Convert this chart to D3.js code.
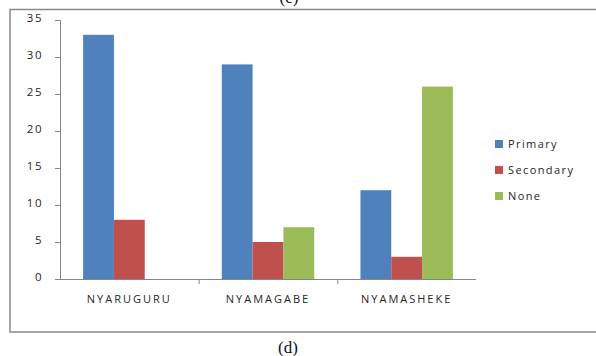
<!DOCTYPE html>
<html>
<head>
<meta charset="utf-8">
<script src="https://cdn.jsdelivr.net/npm/d3@7"></script>
<style>
  html, body { margin: 0; padding: 0; background: #fff; }
  svg { display: block; }
  .lbl { font-family: "Open Sans", "Liberation Sans", sans-serif; fill: #262626; }
</style>
</head>
<body>
<svg id="chart" width="596" height="356"></svg>
<script>
// District education levels
const categories = ["NYARUGURU", "NYAMAGABE", "NYAMASHEKE"];
const seriesNames = ["Primary", "Secondary", "None"];
const primary = [33, 29, 12];
const secondary = [8, 5, 3];
const none = [0, 7, 26];
const yTicks = [0, 5, 10, 15, 20, 25, 30, 35];
const colors = ["#4F81BD", "#C0504D", "#9BBB59"];

const seriesValues = [primary, secondary, none];
const rows = categories.map((c, i) => ({
  category: c,
  values: seriesNames.map((s, j) => ({ series: s, value: seriesValues[j][i] }))
}));

const svg = d3.select("#chart");

// Outer frame of the chart panel
svg.append("rect")
  .attr("x", 10).attr("y", 9.5)
  .attr("width", 620).attr("height", 322.5)
  .attr("fill", "none").attr("stroke", "#8a8a8a").attr("stroke-width", 1.5);

// Caption of the panel above (only its lower part is visible)
svg.append("text")
  .attr("x", 289).attr("y", 3)
  .attr("text-anchor", "middle")
  .attr("font-family", "Liberation Serif, Times New Roman, serif")
  .attr("font-size", 17).attr("fill", "#111")
  .text("(c)");

const plot = { left: 60, right: 476, top: 20, bottom: 279 };

const y = d3.scaleLinear().domain([0, 35]).range([plot.bottom, plot.top]);
const x0 = d3.scaleBand().domain(categories).range([plot.left, plot.right]).padding(0);
const x1 = d3.scaleBand().domain(seriesNames).range([0, x0.bandwidth()])
  .paddingInner(0).paddingOuter(0.75);
const color = d3.scaleOrdinal().domain(seriesNames).range(colors);

// Bars
const groups = svg.append("g").selectAll("g").data(rows).join("g")
  .attr("transform", d => `translate(${x0(d.category)},0)`);
groups.selectAll("rect").data(d => d.values).join("rect")
  .attr("x", d => x1(d.series))
  .attr("y", d => y(d.value))
  .attr("width", x1.bandwidth())
  .attr("height", d => y(0) - y(d.value))
  .attr("fill", d => color(d.series));

// Y axis
const yAxis = svg.append("g")
  .attr("transform", `translate(${plot.left},0)`)
  .call(d3.axisLeft(y).tickValues(yTicks).tickSize(5).tickPadding(12));
yAxis.select(".domain").attr("stroke", "#868686");
yAxis.selectAll(".tick line").attr("stroke", "#868686");
yAxis.selectAll(".tick text")
  .attr("class", "lbl").attr("font-size", 11.5)
  .attr("letter-spacing", 1.5)
  .attr("dy", "0.1em");

// X axis: tick marks sit on the category boundaries
const xb = d3.scaleLinear().domain([0, categories.length]).range([plot.left, plot.right]);
const xAxis = svg.append("g")
  .attr("transform", `translate(0,${plot.bottom})`)
  .call(d3.axisBottom(xb).tickValues([1, 2]).tickSize(5).tickFormat(""));
xAxis.select(".domain").attr("stroke", "#868686").attr("d", `M${plot.left - 5},0.5H${plot.right}`);
xAxis.selectAll(".tick line").attr("stroke", "#868686");

const xLabels = svg.append("g")
  .attr("transform", `translate(0,${plot.bottom})`)
  .call(d3.axisBottom(x0).tickSize(0).tickPadding(16));
xLabels.select(".domain").remove();
xLabels.selectAll(".tick text")
  .attr("class", "lbl").attr("font-size", 11)
  .attr("letter-spacing", 2);

// Legend
const legend = svg.append("g").attr("transform", "translate(495,144)");
const items = legend.selectAll("g").data(seriesNames).join("g")
  .attr("transform", (d, i) => `translate(0,${i * 26})`);
items.append("rect")
  .attr("x", 0).attr("y", -4).attr("width", 8).attr("height", 8)
  .attr("fill", d => color(d));
items.append("text")
  .attr("class", "lbl")
  .attr("x", 13).attr("y", 0).attr("dy", "0.35em")
  .attr("font-size", 11).attr("letter-spacing", 1.4)
  .text(d => d);

// Caption
svg.append("text")
  .attr("x", 288).attr("y", 353)
  .attr("text-anchor", "middle")
  .attr("font-family", "Liberation Serif, Times New Roman, serif")
  .attr("font-size", 17).attr("fill", "#111")
  .text("(d)");
</script>
</body>
</html>
